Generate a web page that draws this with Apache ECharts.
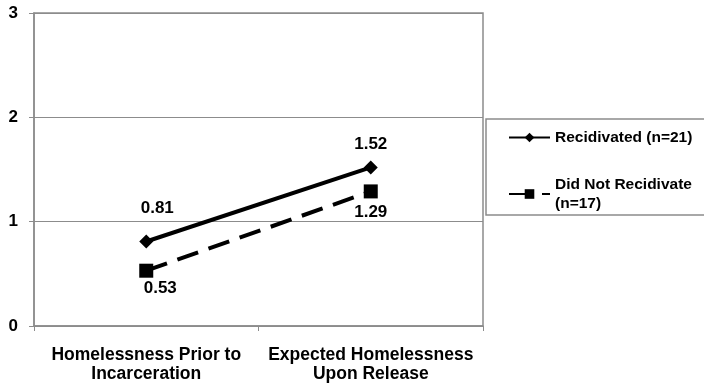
<!DOCTYPE html>
<html>
<head>
<meta charset="utf-8">
<script src="https://cdn.jsdelivr.net/npm/echarts@6/dist/echarts.min.js"></script>
<style>
  html, body { margin: 0; padding: 0; background: #fff; }
  #chart { width: 704px; height: 384px; }
</style>
</head>
<body>
<div id="chart"></div>
<script>
// categories and values
var categories = ['Homelessness Prior to\nIncarceration', 'Expected Homelessness\nUpon Release']
var recidivated = [0.81, 1.52]
var notRecidivated = [0.53, 1.29]
var seriesNames = ['Recidivated (n=21)', 'Did Not Recidivate (n=17)']

var chart = echarts.init(document.getElementById('chart'))
var font = 'Liberation Sans, Arial, sans-serif'

option = {
  animation: false,
  grid: {
    left: 34,
    right: 221,
    top: 13,
    bottom: 58,
    show: true,
    borderColor: '#8c8c8c',
    borderWidth: 1.5,
  },
  // legend frame runs off the right edge like the original
  graphic: [
    {
      type: 'rect',
      shape: { x: 486, y: 119, width: 230, height: 96 },
      style: { fill: 'none', stroke: '#8c8c8c', lineWidth: 1.5 },
    },
  ],
  legend: {
    orient: 'vertical',
    left: 503,
    top: 123,
    itemWidth: 41,
    itemHeight: 12,
    itemGap: 28,
    data: seriesNames,
    formatter: function (name) {
      return name === seriesNames[1] ? 'Did Not Recidivate\n(n=17)' : name
    },
    textStyle: {
      fontFamily: font,
      fontWeight: 'bold',
      fontSize: 15.5,
      color: '#000',
      lineHeight: 19,
    },
  },
  xAxis: {
    type: 'category',
    data: categories,
    boundaryGap: true,
    axisLine: { lineStyle: { color: '#8c8c8c', width: 1.5 } },
    axisTick: { show: true, length: 5, lineStyle: { color: '#8c8c8c' } },
    axisLabel: {
      interval: 0,
      margin: 20,
      fontFamily: font,
      fontWeight: 'bold',
      fontSize: 17.5,
      lineHeight: 19,
      color: '#000',
    },
  },
  yAxis: {
    type: 'value',
    min: 0,
    max: 3,
    interval: 1,
    axisLine: { show: true, lineStyle: { color: '#8c8c8c', width: 1.5 } },
    axisTick: { show: true, length: 5, lineStyle: { color: '#8c8c8c' } },
    splitLine: { lineStyle: { color: '#8c8c8c', width: 1.2 } },
    axisLabel: {
      margin: 16,
      fontFamily: font,
      fontWeight: 'bold',
      fontSize: 17,
      color: '#000',
    },
  },
  series: [
    {
      name: seriesNames[0],
      type: 'line',
      data: recidivated.map(function (v, i) {
        return {
          value: v,
          label: { offset: i === 0 ? [11, -10] : [0, 0] },
        }
      }),
      symbol: 'diamond',
      symbolSize: 14,
      color: '#000',
      lineStyle: { width: 4, color: '#000' },
      itemStyle: { color: '#000' },
      label: {
        show: true,
        position: 'top',
        distance: 8,
        fontFamily: font,
        fontWeight: 'bold',
        fontSize: 17,
        color: '#000',
      },
    },
    {
      name: seriesNames[1],
      type: 'line',
      data: notRecidivated.map(function (v, i) {
        return {
          value: v,
          label: { offset: i === 0 ? [14, -3] : [0, 0] },
        }
      }),
      symbol: 'rect',
      symbolSize: 14,
      color: '#000',
      lineStyle: { width: 4, color: '#000', type: [22, 11] },
      itemStyle: { color: '#000' },
      label: {
        show: true,
        position: 'bottom',
        distance: 5,
        fontFamily: font,
        fontWeight: 'bold',
        fontSize: 17,
        color: '#000',
      },
    },
  ],
}
chart.setOption(option)
</script>
</body>
</html>
